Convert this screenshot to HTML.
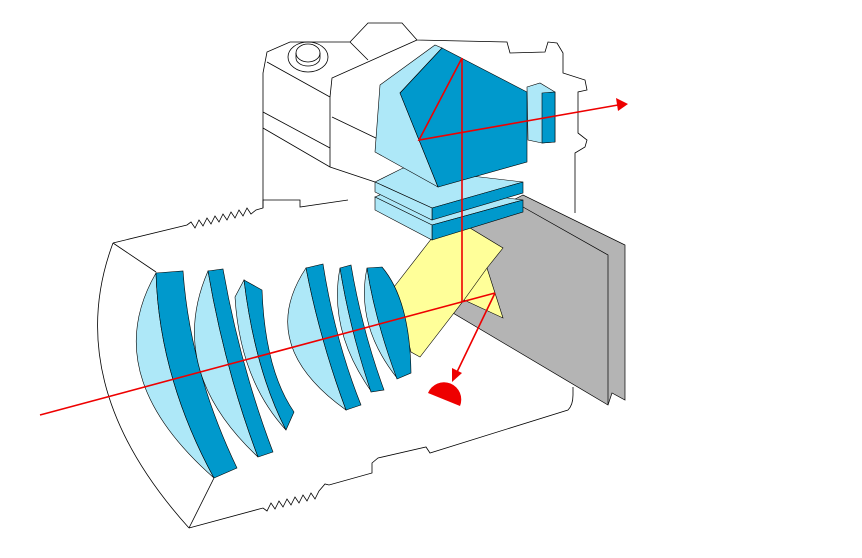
<!DOCTYPE html>
<html><head><meta charset="utf-8"><style>html,body{margin:0;padding:0;background:#fff}svg{display:block}</style></head>
<body>
<svg width="862" height="558" viewBox="0 0 862 558" xmlns="http://www.w3.org/2000/svg">
<g fill="none" stroke="#000" stroke-width="0.8">
<!-- camera body -->
<path d="M263,208 L263,73 L267,52 L290,42 L350,42 L368,23 L402,23 L417,40 L507,42 L510,53 L545,52 L548,42 L557,43 L563,53 L563,73 L585,80 L587,90 L578,92 L578,133 L587,140 L585,147 L575,153 L575,213"/>
<path d="M267,62 L330,97 L330,167"/>
<path d="M263,112 L330,148"/>
<path d="M263,128 L330,167 L375,182"/>
<path d="M330,97 L332,78 L417,40"/>
<path d="M350,42 L368,60"/>
<path d="M332,117 L380,140"/>
<ellipse cx="308" cy="57" rx="20" ry="15"/>
<ellipse cx="308" cy="53" rx="12" ry="9"/>
<path d="M296,53 L296,58 A12,8 0 0 0 320,58 L320,53"/>
<!-- lens barrel -->
<path d="M113,243 Q60,385 189,528"/>
<path d="M113,243 L156,272"/>
<path d="M189,528 L214,478"/>
<path d="M113,243 L187,225 L191,222 L195,228 L199,220 L203,226 L207,218 L211,224 L215,216 L219,222 L223,214 L227,220 L231,212 L235,218 L239,210 L243,216 L247,208 L251,214 L256,210 L263,208 L263,200 L300,200 L300,207 L348,200"/>
<path d="M189,528 L263,508 L267,511 L271,503 L275,509 L279,501 L283,507 L287,499 L291,505 L295,497 L299,503 L303,495 L307,501 L311,493 L315,499 L319,491 L325,484 L329,485 L372,473 L372,463 L378,458 L426,447 L430,453 L568,410 Q573,405 573,395 L573,387"/>
</g>
<!-- grey plates -->
<polygon points="465,225 523,195 625,245 625,400 612,393 608,405 453,313 470,290" fill="#b4b4b4" stroke="#000" stroke-width="0.7"/>
<path d="M523,207 L608,255 L608,405" fill="none" stroke="#000" stroke-width="0.7"/>
<!-- yellow mirrors -->
<polygon points="394,287 432,238 470,228 503,248 487,268 503,318 464,300 420,357 411,352" fill="#ffff99" stroke="#000" stroke-width="0.6"/>
<path d="M487,268 L464,300" fill="none" stroke="#000" stroke-width="0.6"/>
<g stroke="#000" stroke-width="0.6">
<!-- lens1 -->
<path d="M156,273 Q97,375 214,478 Q159,377 156,273Z" fill="#aee8f8"/>
<path d="M156,273 L183,271 Q190,370 237,468 L214,478 Q159,377 156,273Z" fill="#0099cc"/>
<!-- lens2 -->
<path d="M208,271 Q165,370 258,457 Q225,370 208,271Z" fill="#aee8f8"/>
<path d="M208,271 L223,269 Q240,365 273,452 L258,457 Q225,370 208,271Z" fill="#0099cc"/>
<!-- lens3 -->
<path d="M244,280 L235,297 Q240,380 286,430 Q255,370 244,280Z" fill="#aee8f8"/>
<path d="M244,280 L262,290 Q265,370 294,412 L286,430 Q255,370 244,280Z" fill="#0099cc"/>
<!-- lens4 -->
<path d="M306,268 Q255,345 346,410 Q320,340 306,268Z" fill="#aee8f8"/>
<path d="M306,268 L323,264 Q335,340 361,405 L346,410 Q320,340 306,268Z" fill="#0099cc"/>
<!-- lens5 -->
<path d="M340,268 Q328,330 371,391 Q350,330 340,268Z" fill="#aee8f8"/>
<path d="M340,268 L351,265 Q362,330 384,390 L371,392 Q350,330 340,268Z" fill="#0099cc"/>
<!-- lens6 -->
<path d="M367,268 Q355,325 397,378 Q375,320 367,268Z" fill="#aee8f8"/>
<path d="M367,268 L382,267 Q410,300 411,373 L397,379 Q375,320 367,268Z" fill="#0099cc"/>
<!-- plates -->
<polygon points="375,197 403,185 523,200 432,225" fill="#aee8f8"/>
<polygon points="432,225 523,200 523,212 432,240" fill="#0099cc"/>
<polygon points="375,197 432,225 432,240 375,210" fill="#aee8f8"/>
<polygon points="375,182 403,168 523,182 432,208" fill="#aee8f8"/>
<polygon points="432,208 523,182 523,193 432,220" fill="#0099cc"/>
<polygon points="375,182 432,208 432,220 375,192" fill="#aee8f8"/>
<!-- pentaprism -->
<polygon points="380,85 435,45 442,48 400,93 438,187 375,152" fill="#aee8f8"/>
<polygon points="442,48 527,92 527,162 438,187 400,93" fill="#0099cc"/>
<!-- eyepiece -->
<polygon points="527,87 540,83 555,92 555,142 542,143 528,140" fill="#aee8f8"/>
<polygon points="542,93 555,92 555,142 542,143" fill="#0099cc"/>
</g>
<!-- red rays -->
<g stroke="#e00" stroke-width="1.6" fill="none">
<path d="M40,415 L495,293"/>
<path d="M462,58 L462,302"/>
<path d="M462,58 L419,140 L618,105"/>
<path d="M495,293 L457,372"/>
</g>
<polygon points="628,104 616,98 618,111" fill="#e00"/>
<polygon points="452,382 452,368 462,373" fill="#e00"/>
<path d="M428,393 A17,17 0 0 1 460,406 Z" fill="#e00"/>
</svg>
</body></html>
